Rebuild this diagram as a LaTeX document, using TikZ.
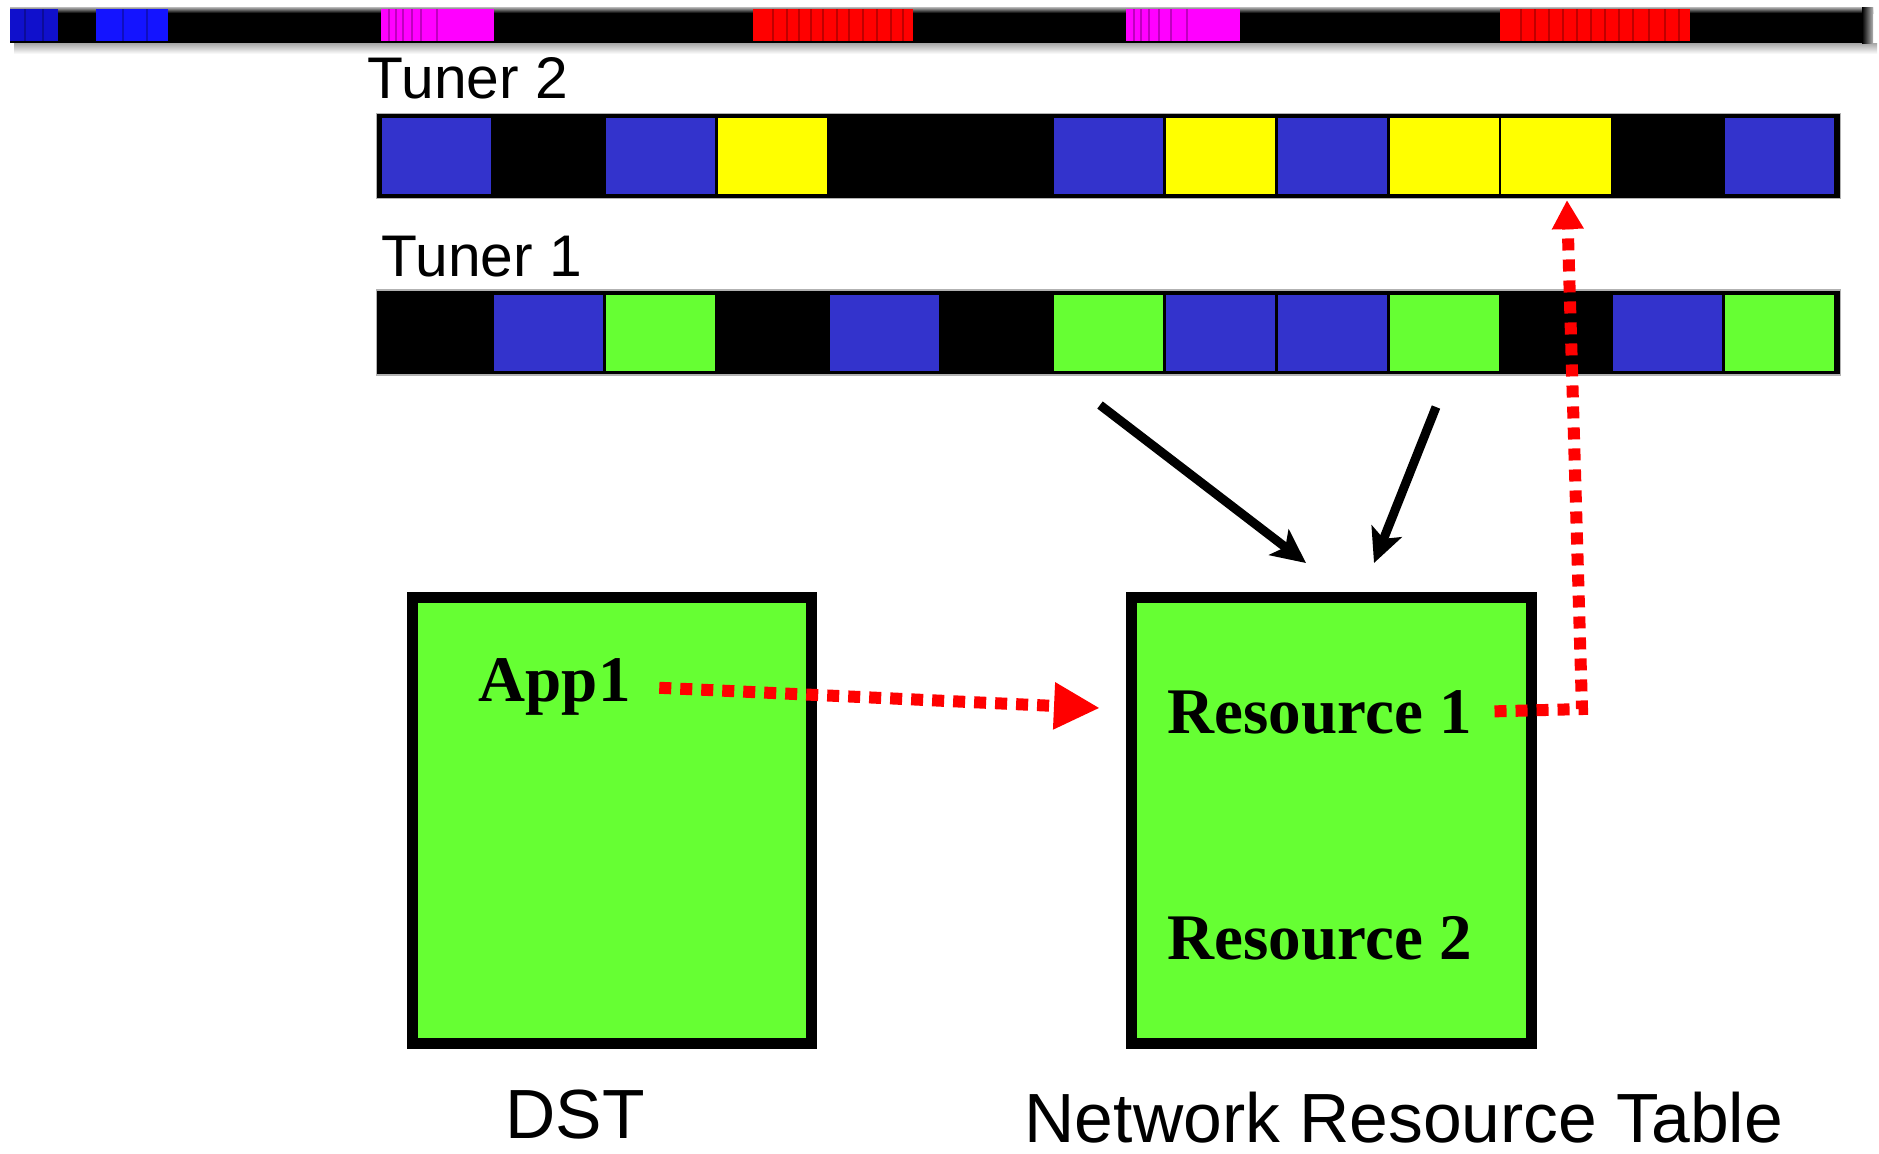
\documentclass[tikz,border=0pt]{standalone}
\usepackage{fontspec}
\setmainfont{Liberation Serif}
\setsansfont{Liberation Sans}
\usepackage{tikz}
\usetikzlibrary{arrows.meta, positioning}

% one coloured band of the spectrum strip: x1, x2, colour, dark stripes
\newcommand{\specband}[4]{%
  \fill[#3] (#1,9) rectangle (#2,41);
  \foreach \s in {#4} \fill[#3!75!black] (\s,9) rectangle ++(2,32);
}

\begin{document}
\begin{tikzpicture}[x=0.01cm, y=-0.01cm,
  cell/.style={minimum width=1.09cm, minimum height=0.76cm, inner sep=0pt, outer sep=0pt},
  tunerbar/.style={fill=black, draw=gray!60, line width=0.4pt, minimum width=14.63cm, minimum height=0.85cm, inner sep=0pt},
  tablebox/.style={fill=boxgreen, draw=black, line width=0.11cm, minimum width=3.99cm, minimum height=4.46cm, inner sep=0pt},
  tunerlabel/.style={font=\sffamily\fontsize{16.7}{20}\selectfont, inner sep=0pt, anchor=base west},
  caption/.style={font=\sffamily\fontsize{19.8}{23}\selectfont, inner sep=0pt, anchor=base west},
  entry/.style={font=\rmfamily\bfseries\fontsize{18.5}{22}\selectfont, inner sep=0pt, anchor=base west},
  feed/.style={line width=0.09cm, -{Stealth[length=0.34cm, width=0.32cm, inset=0.08cm]}},
  lookup/.style={red, line width=0.12cm, dash pattern=on 0.12cm off 0.09cm}]
  \definecolor{cellblue}{HTML}{3333CC}
  \definecolor{cellyellow}{HTML}{FFFF00}
  \definecolor{boxgreen}{HTML}{66FF33}
  \definecolor{specblue}{RGB}{20,20,255}
  \definecolor{specmag}{RGB}{255,0,255}
  \definecolor{specred}{RGB}{255,0,0}

  \useasboundingbox (0,0) rectangle (1879,1153);
  \fill[white] (0,0) rectangle (1879,1153);

  % spectrum strip
  \shade[top color=gray!70, bottom color=white] (14,43) rectangle (1877,54);
  \fill[black] (10,7) rectangle (1873,43);
  \shade[top color=gray!55, bottom color=black] (10,7) rectangle (1873,13);
  \specband{10}{58}{specblue!80!black}{24,42}
  \specband{96}{168}{specblue}{122,146}
  \specband{381}{494}{specmag}{388,395,402,411,420,436}
  \specband{753}{913}{specred}{772,786,798,810,822,836,848,862,876,890,902}
  \specband{1126}{1240}{specmag}{1133,1140,1148,1158,1170,1186}
  \specband{1500}{1690}{specred}{1520,1534,1548,1562,1576,1590,1604,1618,1632,1648,1664,1678}
  \shade[left color=black, right color=gray!60] (1862,7) rectangle (1873,43);

  % tuners
  \node[tunerlabel] (lbltwo) at (367,98) {Tuner 2};
  \node[tunerbar] (tuner2) at (1108.5,156) {};
  \foreach \c [count=\i] in {cellblue,black,cellblue,cellyellow,black,black,cellblue,cellyellow,cellblue,cellyellow,cellyellow,black,cellblue}
    \node[cell, fill=\c] (t2c\i) at ({381+(\i-0.5)*111.9},156) {};

  \node[tunerlabel] (lblone) at (381,276) {Tuner 1};
  \node[tunerbar] (tuner1) at (1108.5,332.5) {};
  \foreach \c [count=\i] in {black,cellblue,boxgreen,black,cellblue,black,boxgreen,cellblue,cellblue,boxgreen,black,cellblue,boxgreen}
    \node[cell, fill=\c] (t1c\i) at ({381+(\i-0.5)*111.9},332.5) {};

  % tables
  \node[tablebox] (dst) at (612,820.5) {};
  \node[tablebox] (nrt) at (1331.5,820.5) {};
  \node[entry] (app) at (478,701) {App1};
  \node[entry] (resa) at (1167,733) {Resource 1};
  \node[entry] (resb) at (1167,959) {Resource 2};
  \node[caption] (dstcap) at (505,1138) {DST};
  \node[caption] (nrtcap) at (1024,1142) {Network Resource Table};

  % arrows
  \coordinate (feedA) at (1100,405);
  \coordinate (feedB) at (1436,407);
  \coordinate (inA) at (1306,563);
  \coordinate (inB) at (1374,563);
  \draw[feed] (feedA) -- (inA);
  \draw[feed] (feedB) -- (inB);

  \coordinate (apptip) at (1100,708);
  \draw[lookup, shorten <=0.28cm, -{Triangle[length=0.46cm, width=0.44cm]}] (app.east) -- (apptip);
  \coordinate (rcorner) at (1582,709);
  \draw[lookup, shorten <=0.22cm, -{Triangle[length=0.29cm, width=0.30cm]}] (resa.east) -- (rcorner) -- ([xshift=0.11cm, yshift=-0.06cm]t2c11.south);
\end{tikzpicture}
\end{document}
